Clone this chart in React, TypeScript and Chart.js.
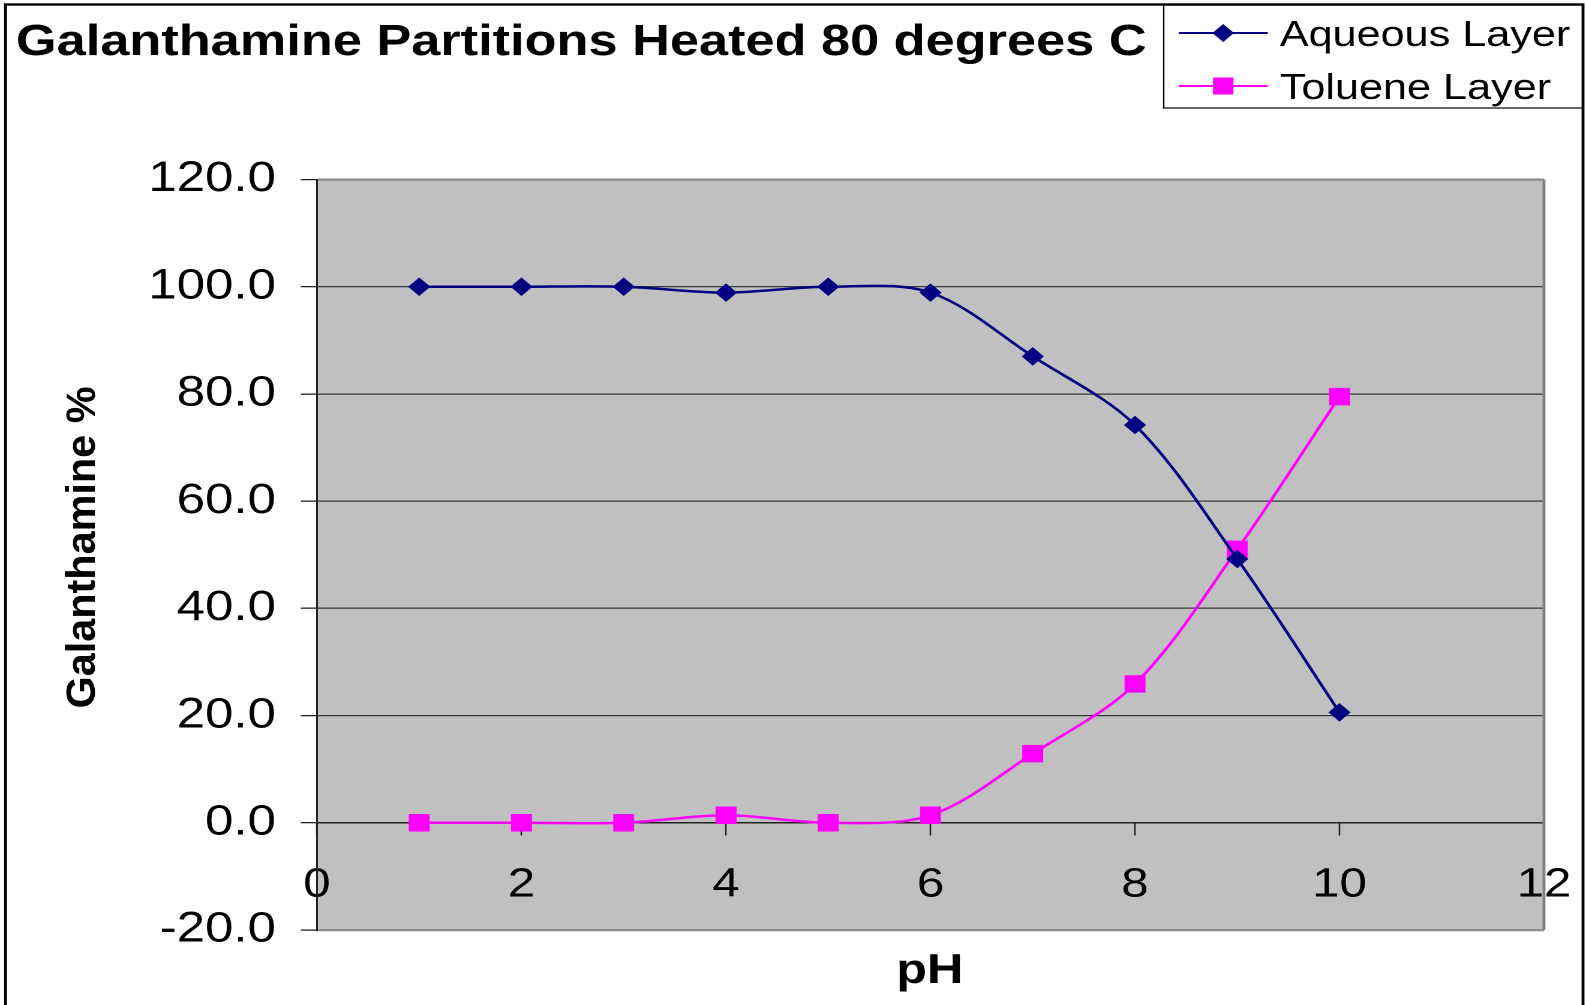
import React, { useEffect, useRef } from 'react';
import { Chart, registerables } from 'chart.js';

Chart.register(...registerables);

// ---- data ----
const chartTitle = 'Galanthamine Partitions Heated 80 degrees C';
const xAxisTitle = 'pH';
const yAxisTitle = 'Galanthamine %';
const seriesNames = ['Aqueous Layer', 'Toluene Layer'];
const phValues = [1, 2, 3, 4, 5, 6, 7, 8, 9, 10];
const aqueousLayer = [100.0, 100.0, 100.0, 98.9, 100.0, 98.9, 87.0, 74.2, 49.2, 20.6];
const tolueneLayer = [0.0, 0.0, 0.0, 1.4, 0.0, 1.4, 12.9, 25.9, 51.0, 79.5];
const xTickValues = [0, 2, 4, 6, 8, 10, 12];
const yTickValues = [-20, 0, 20, 40, 60, 80, 100, 120];

const seriesColors = ['#000080', '#FF00FF'];
const FONT = '"Liberation Sans", Arial, Helvetica, sans-serif';

// internal drawing size (stretched horizontally by CSS to the full window)
const W = 1322;
const H = 1005;
const CSS_W = 1586;
const CSS_H = 1005;

const decorPlugin = {
  id: 'decor',
  beforeDraw(chart: any) {
    const { ctx, chartArea: a } = chart;
    ctx.save();
    ctx.fillStyle = '#ffffff';
    ctx.fillRect(0, 0, chart.width, chart.height);
    ctx.fillStyle = '#c0c0c0';
    ctx.fillRect(a.left, a.top, a.right - a.left, a.bottom - a.top);
    ctx.restore();
  },
  beforeDatasetsDraw(chart: any) {
    const { ctx, chartArea: a } = chart;
    ctx.save();
    ctx.strokeStyle = '#828282';
    ctx.lineWidth = 2.4;
    ctx.beginPath();
    ctx.moveTo(a.right, a.top);
    ctx.lineTo(a.right, a.bottom);
    ctx.stroke();
    ctx.restore();
  },
  afterDraw(chart: any) {
    const { ctx } = chart;
    ctx.save();
    // outer frame
    ctx.strokeStyle = '#000';
    ctx.lineWidth = 2.4;
    ctx.strokeRect(4.6, 4.5, 1319.5 - 4.6, 1010);

    // title
    ctx.fillStyle = '#000';
    ctx.font = `bold 43.6px ${FONT}`;
    ctx.textAlign = 'left';
    ctx.textBaseline = 'alphabetic';
    ctx.fillText(chartTitle, 13.3, 55);

    // x axis title
    ctx.font = `bold 42px ${FONT}`;
    ctx.textAlign = 'center';
    ctx.fillText(xAxisTitle, 775, 983);

    // y axis title (rotated)
    ctx.save();
    ctx.translate(79, 547.5);
    ctx.rotate(-Math.PI / 2);
    ctx.font = `bold 34px ${FONT}`;
    const tw = ctx.measureText(yAxisTitle).width;
    ctx.scale(322 / tw, 1);
    ctx.textAlign = 'center';
    ctx.textBaseline = 'alphabetic';
    ctx.fillText(yAxisTitle, 0, 0);
    ctx.restore();

    // legend
    const lx = 970, ly = 5, lr = 1319.5, lb = 108;
    ctx.strokeStyle = '#000';
    ctx.lineWidth = 1.2;
    ctx.strokeRect(lx, ly, lr - lx, lb - ly);
    const rows = [33, 86];
    const x0 = 982.5, x1 = 1056.7, xm = (x0 + x1) / 2;
    chart.data.datasets.forEach((ds: any, i: number) => {
      const y = rows[i];
      ctx.strokeStyle = ds.borderColor;
      ctx.lineWidth = 2;
      ctx.beginPath();
      ctx.moveTo(x0, y);
      ctx.lineTo(x1, y);
      ctx.stroke();
      ctx.fillStyle = ds.backgroundColor;
      ctx.beginPath();
      if (i === 0) {
        const r = 9;
        ctx.moveTo(xm - r, y);
        ctx.lineTo(xm, y - r);
        ctx.lineTo(xm + r, y);
        ctx.lineTo(xm, y + r);
        ctx.closePath();
      } else {
        const h = 8.5;
        ctx.rect(xm - h, y - h, 2 * h, 2 * h);
      }
      ctx.fill();
      ctx.fillStyle = '#000';
      ctx.font = `36px ${FONT}`;
      ctx.textAlign = 'left';
      ctx.textBaseline = 'alphabetic';
      ctx.fillText(ds.label, 1066.7, y + 13);
    });
    ctx.restore();
  },
};

export default function App() {
  const canvasRef = useRef<HTMLCanvasElement | null>(null);

  useEffect(() => {
    const canvas = canvasRef.current;
    if (!canvas) return;
    const isEdge = (v: number) => v === yTickValues[0] || v === yTickValues[yTickValues.length - 1];
    const chart = new Chart(canvas, {
      type: 'line',
      data: {
        datasets: [
          {
            label: seriesNames[0],
            data: phValues.map((x, i) => ({ x, y: aqueousLayer[i] })),
            borderColor: seriesColors[0],
            backgroundColor: seriesColors[0],
            borderWidth: 2.5,
            pointStyle: 'rectRot',
            pointRadius: 9,
            pointBorderWidth: 0.5,
            tension: 0.33,
            fill: false,
          },
          {
            label: seriesNames[1],
            data: phValues.map((x, i) => ({ x, y: tolueneLayer[i] })),
            borderColor: seriesColors[1],
            backgroundColor: seriesColors[1],
            borderWidth: 2.5,
            pointStyle: 'rect',
            pointRadius: 12,
            pointBorderWidth: 0.5,
            tension: 0.33,
            fill: false,
          },
        ],
      },
      options: {
        animation: false,
        responsive: false,
        maintainAspectRatio: false,
        devicePixelRatio: 2,
        layout: { padding: { left: 0, top: 179.5, right: 35, bottom: 75 } },
        plugins: {
          legend: { display: false },
          title: { display: false },
          tooltip: { enabled: false },
        },
        scales: {
          x: {
            type: 'linear',
            position: { y: 0 } as any,
            min: xTickValues[0],
            max: xTickValues[xTickValues.length - 1],
            afterBuildTicks: (scale: any) => {
              scale.ticks = xTickValues.map((v) => ({ value: v }));
            },
            afterFit: (scale: any) => {
              scale.paddingLeft = 0;
              scale.paddingRight = 0;
            },
            ticks: {
              autoSkip: false,
              maxRotation: 0,
              padding: 26,
              color: '#000',
              font: { family: FONT, size: 41 },
              callback: (v: any) => String(v),
            },
            grid: {
              drawOnChartArea: false,
              drawTicks: true,
              tickLength: 12,
              tickColor: '#222',
              tickWidth: 1.3,
            },
            border: { display: true, color: '#222', width: 1.5 },
          },
          y: {
            type: 'linear',
            position: 'left',
            min: yTickValues[0],
            max: yTickValues[yTickValues.length - 1],
            afterBuildTicks: (scale: any) => {
              scale.ticks = yTickValues.map((v) => ({ value: v }));
            },
            afterFit: (scale: any) => {
              scale.width = 264.2;
            },
            ticks: {
              padding: 20.8,
              color: '#000',
              font: { family: FONT, size: 42.5 },
              callback: (v: any) => Number(v).toFixed(1),
            },
            grid: {
              color: (c: any) => (c.tick && isEdge(c.tick.value) ? '#8a8a8a' : '#3a3a3a'),
              lineWidth: (c: any) => (c.tick && isEdge(c.tick.value) ? 2.2 : 1.3),
              tickLength: 13.4,
              tickColor: '#222',
              tickWidth: 1.3,
            },
            border: { display: true, color: '#222', width: 1.5 },
          },
        },
      },
      plugins: [decorPlugin],
    } as any);
    return () => {
      chart.destroy();
    };
  }, []);

  return (
    <div style={{ position: 'absolute', left: 0, top: 0, width: CSS_W, height: CSS_H, background: '#fff' }}>
      <canvas
        ref={canvasRef}
        width={W}
        height={H}
        style={{ width: `${CSS_W}px`, height: `${CSS_H}px`, display: 'block' }}
      />
    </div>
  );
}
